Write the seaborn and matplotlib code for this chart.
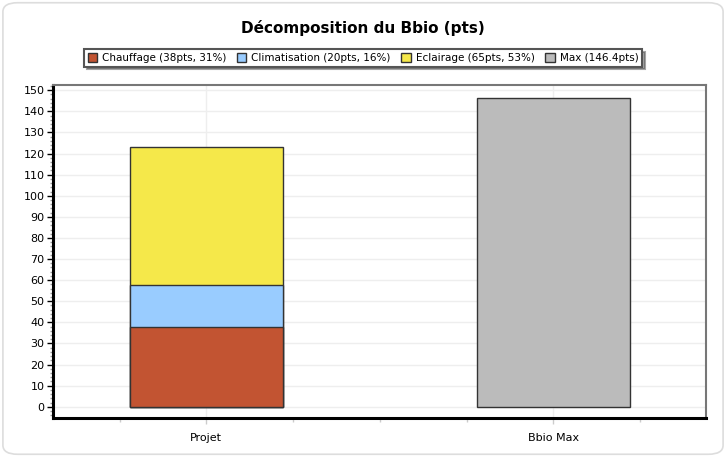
import numpy as np
import pandas as pd
import matplotlib
matplotlib.use("Agg")
import matplotlib.pyplot as plt
from matplotlib.patches import Patch, FancyBboxPatch
from matplotlib.ticker import MultipleLocator
import seaborn as sns

# data
categories = ["Projet", "Bbio Max"]
series = ["Chauffage", "Climatisation", "Eclairage", "Max"]
projet_values = [38, 19.7, 65.5]
max_value = 146.4
legend_labels = ["Chauffage (38pts, 31%)", "Climatisation (20pts, 16%)",
                 "Eclairage (65pts, 53%)", "Max (146.4pts)"]
colors = ["#C25432", "#99CCFF", "#F5E84A", "#BBBBBB"]

sns.set_style("white")
plt.rcParams["font.family"] = ["DejaVu Sans"]
plt.rcParams["text.color"] = "black"
plt.rcParams["xtick.color"] = "black"
plt.rcParams["ytick.color"] = "black"

fig = plt.figure(figsize=(7.26, 4.57), dpi=100)
ax = fig.add_axes([0.073, 0.086, 0.8995, 0.728])

cum = np.cumsum(projet_values)
edge = "#333333"

# top layer first (total height), then lower layers over it
top = pd.DataFrame({"cat": categories, "val": [cum[2], max_value]})
sns.barplot(data=top, x="cat", y="val", hue="cat", order=categories,
            palette=[colors[2], colors[3]], width=0.44, legend=False,
            saturation=1, edgecolor=edge, linewidth=1, ax=ax, zorder=3)
for i, c in [(1, colors[1]), (0, colors[0])]:
    layer = pd.DataFrame({"cat": ["Projet"], "val": [cum[i]]})
    sns.barplot(data=layer, x="cat", y="val", order=categories, color=c,
                width=0.44, edgecolor=edge, linewidth=1, ax=ax, zorder=3,
                saturation=1)

ax.set_xlim(-0.442, 1.44)
ax.set_ylim(-5.2, 152.5)
ax.set_xlabel("")
ax.set_ylabel("")
ax.yaxis.set_major_locator(MultipleLocator(10))
ax.yaxis.set_minor_locator(MultipleLocator(2))
ax.xaxis.set_minor_locator(MultipleLocator(0.25))
ax.tick_params(axis="y", which="major", length=4, width=1, color="black",
               labelsize=8, pad=2, left=True)
ax.tick_params(axis="y", which="minor", length=2.5, width=1, color="#999999", left=True)
ax.tick_params(axis="x", which="major", length=4, width=1, color="#cccccc",
               labelsize=8, pad=7, bottom=True)
ax.tick_params(axis="x", which="minor", length=3, width=1, color="#cccccc", bottom=True)
ax.grid(True, which="major", color="#EEEEEE", linewidth=1, zorder=0)
ax.set_axisbelow(True)

for s in ["left", "bottom"]:
    ax.spines[s].set_color("black")
    ax.spines[s].set_linewidth(2.2)
for s in ["top", "right"]:
    ax.spines[s].set_color("#777777")
    ax.spines[s].set_linewidth(1.5)

fig.text(0.5, 0.938, "Décomposition du Bbio (pts)", ha="center", va="center",
         fontsize=11, fontweight="bold", color="black")

handles = [Patch(facecolor=c, edgecolor=edge, linewidth=1) for c in colors]
leg = fig.legend(handles, legend_labels, ncol=4, loc="center",
                 bbox_to_anchor=(0.5, 0.873), fontsize=7.5, frameon=True,
                 fancybox=False, shadow=True, handlelength=0.9,
                 handleheight=0.9, handletextpad=0.5, columnspacing=1.0,
                 borderpad=0.35, borderaxespad=0)
leg.get_frame().set_edgecolor("#555555")
leg.get_frame().set_linewidth(1.5)

# rounded outline of the chart panel
fig.patches.append(FancyBboxPatch((0.004, 0.006), 0.992, 0.988,
                                  boxstyle="round,pad=0,rounding_size=0.02",
                                  transform=fig.transFigure, facecolor="none",
                                  edgecolor="#DDDDDD", linewidth=1.2))

fig.savefig("out.png", dpi=100)
